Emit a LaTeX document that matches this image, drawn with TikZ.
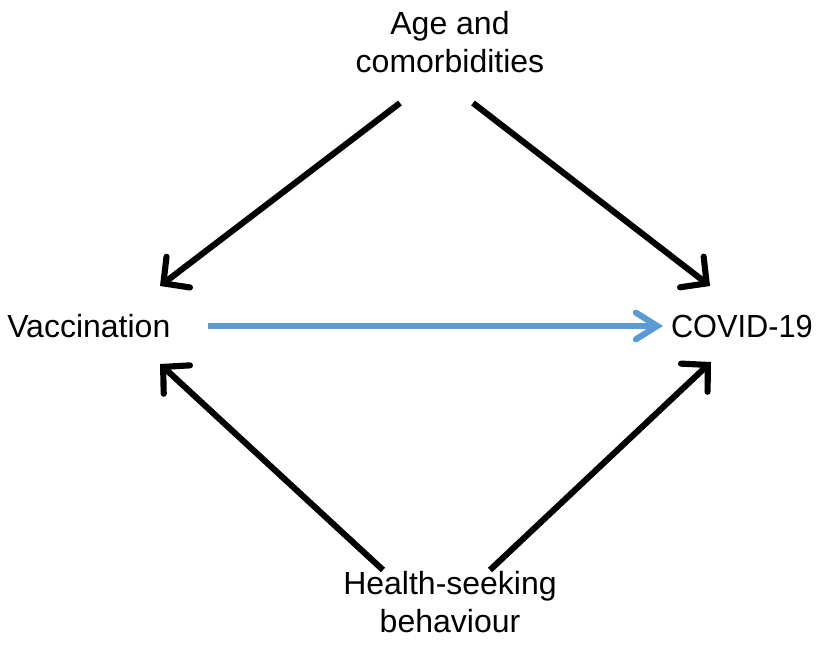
\documentclass[tikz,border=0pt]{standalone}
\usepackage{fontspec}
\setmainfont{Liberation Sans}
\usetikzlibrary{arrows.meta}
\definecolor{linkblue}{HTML}{5B9BD5}
\begin{document}
\begin{tikzpicture}[x=0.75pt,y=-0.75pt,
  lbl/.style={font=\fontsize{24pt}{29pt}\selectfont, align=center, inner sep=0pt},
  causal/.style={line width=4.6pt, -{Straight Barb[length=14pt,width=29pt,line cap=round]}},
  mainlink/.style={line width=4.6pt, draw=linkblue, -{Straight Barb[length=16pt,width=20pt,line cap=round]}}]
\useasboundingbox (0,0) rectangle (817,663);
% variables
\node[lbl] (age) at (450,42) {Age and\\comorbidities};
\node[lbl, anchor=west] (vac) at (7,326) {Vaccination};
\node[lbl, anchor=east, xscale=0.96] (cov) at (813,326) {COVID-19};
\node[lbl] (hsb) at (450,602) {Health-seeking\\behaviour};
% arrow end points
\coordinate (a1) at (400,103);
\coordinate (a2) at (473,103);
\coordinate (v1) at (160,286);
\coordinate (c1) at (710,286);
\coordinate (v2) at (160,364);
\coordinate (c2) at (711,362);
\coordinate (h1) at (383,570);
\coordinate (h2) at (490,570);
\coordinate (vr) at (208,326);
\coordinate (cl) at (663,326);
% edges
\draw[causal] (a1) -- (v1);
\draw[causal] (a2) -- (c1);
\draw[causal] (h1) -- (v2);
\draw[causal] (h2) -- (c2);
\draw[mainlink] (vr) -- (cl);
\end{tikzpicture}
\end{document}
